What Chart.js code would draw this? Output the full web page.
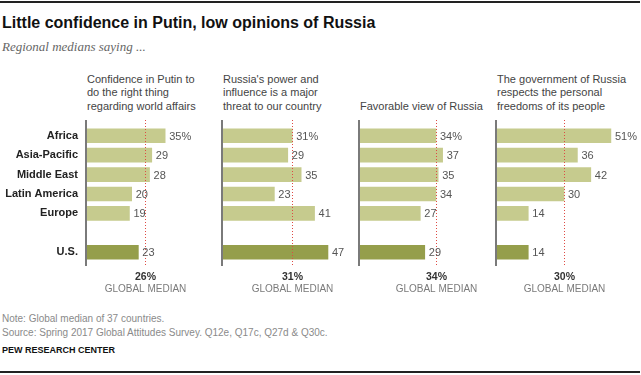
<!DOCTYPE html>
<html>
<head>
<meta charset="utf-8">
<script src="https://cdn.jsdelivr.net/npm/chart.js@4/dist/chart.umd.min.js"></script>
<style>
  html, body { margin: 0; padding: 0; background: #fff; }
  #wrap { position: relative; width: 641px; height: 375px; overflow: hidden; font-family: "Liberation Sans", Arial, sans-serif; }
  .rule { position: absolute; left: 0; width: 640px; height: 2px; background: #222; }
  .title { position: absolute; left: 2px; top: 13.5px; font-size: 16px; line-height: 18px; font-weight: bold; color: #111; white-space: nowrap; }
  .sub { position: absolute; left: 2px; top: 39px; font-family: "Liberation Serif", serif; font-style: italic; font-size: 13px; line-height: 15px; color: #666; white-space: nowrap; }
  .head { position: absolute; bottom: 262px; font-size: 11px; line-height: 13.5px; color: #444; white-space: nowrap; }
  .note { position: absolute; left: 2px; font-size: 10px; line-height: 14px; color: #8a8a8a; white-space: nowrap; }
  .pew { position: absolute; left: 2px; top: 345.4px; font-size: 9px; line-height: 11px; font-weight: bold; color: #111; white-space: nowrap; }
  canvas { position: absolute; top: 100px; }
</style>
</head>
<body>
<div id="wrap">
  <div class="rule" style="top:1px"></div>
  <div class="title">Little confidence in Putin, low opinions of Russia</div>
  <div class="sub">Regional medians saying ...</div>

  <div class="head" style="left:87px">Confidence in Putin to<br>do the right thing<br>regarding world affairs</div>
  <div class="head" style="left:223px">Russia's power and<br>influence is a major<br>threat to our country</div>
  <div class="head" style="left:360px">Favorable view of Russia</div>
  <div class="head" style="left:497px">The government of Russia<br>respects the personal<br>freedoms of its people</div>

  <canvas id="c0" width="241" height="200" style="left:0px"></canvas>
  <canvas id="c1" width="241" height="200" style="left:136px"></canvas>
  <canvas id="c2" width="241" height="200" style="left:273px"></canvas>
  <canvas id="c3" width="241" height="200" style="left:410px"></canvas>

  <div class="note" style="top:311.5px">Note: Global median of 37 countries.</div>
  <div class="note" style="top:325.5px">Source: Spring 2017 Global Attitudes Survey. Q12e, Q17c, Q27d &amp; Q30c.</div>
  <div class="pew">PEW RESEARCH CENTER</div>
  <div class="rule" style="top:371px"></div>
</div>

<script>
// data
const regions = ['Africa', 'Asia-Pacific', 'Middle East', 'Latin America', 'Europe', '', 'U.S.'];
const confidencePutin = [35, 29, 28, 20, 19, null, 23];
const russiaThreat = [31, 29, 35, 23, 41, null, 47];
const favorableRussia = [34, 37, 35, 34, 27, null, 29];
const respectsFreedoms = [51, 36, 42, 30, 14, null, 14];
const globalMedians = [26, 31, 34, 30];

const panels = [confidencePutin, russiaThreat, favorableRussia, respectsFreedoms];

const lightGreen = '#c6cb8e';
const darkGreen = '#959e4b';
const barColors = regions.map(r => r === 'U.S.' ? darkGreen : lightGreen);

Chart.defaults.font.family = '"Liberation Sans", Arial, sans-serif';

// value labels, axis line and global median line
const extrasPlugin = {
    id: 'extras',
    afterDatasetsDraw(chart, args, opts) {
        const ctx = chart.ctx;
        const area = chart.chartArea;
        const xs = chart.scales.x;

        // axis line
        ctx.save();
        ctx.fillStyle = '#7a7a7a';
        ctx.fillRect(area.left - 2, area.top - 6, 2, area.bottom - area.top + 10);

        // median dotted line
        const mx = Math.round(xs.getPixelForValue(opts.median)) + 0.5;
        ctx.strokeStyle = '#de4b43';
        ctx.lineWidth = 1;
        ctx.setLineDash([1, 2]);
        ctx.beginPath();
        ctx.moveTo(mx, area.top - 6);
        ctx.lineTo(mx, area.bottom + 4);
        ctx.stroke();
        ctx.setLineDash([]);

        // median text
        ctx.textAlign = 'center';
        ctx.textBaseline = 'alphabetic';
        ctx.fillStyle = '#333';
        ctx.font = 'bold 10.5px "Liberation Sans", Arial, sans-serif';
        ctx.fillText(opts.median + '%', mx, 180);
        ctx.fillStyle = '#7a7a7a';
        ctx.font = '10px "Liberation Sans", Arial, sans-serif';
        ctx.fillText('GLOBAL MEDIAN', mx, 192);

        // value labels
        const meta = chart.getDatasetMeta(0);
        const data = chart.data.datasets[0].data;
        ctx.textAlign = 'left';
        ctx.textBaseline = 'middle';
        ctx.fillStyle = '#555';
        ctx.font = '11px "Liberation Sans", Arial, sans-serif';
        meta.data.forEach((bar, i) => {
            if (data[i] == null) return;
            const txt = i === 0 ? data[i] + '%' : String(data[i]);
            ctx.fillText(txt, bar.x + 4, bar.y + 1);
        });
        ctx.restore();
    }
};

panels.forEach((vals, p) => {
    new Chart(document.getElementById('c' + p), {
        type: 'bar',
        data: {
            labels: regions,
            datasets: [{
                data: vals,
                backgroundColor: barColors,
                borderWidth: 0,
                barThickness: 14,
            }]
        },
        options: {
            indexAxis: 'y',
            responsive: false,
            animation: false,
            events: [],
            layout: { padding: { top: 26, bottom: 38, left: 0, right: 20 } },
            plugins: {
                legend: { display: false },
                tooltip: { enabled: false },
                extras: { median: globalMedians[p] },
            },
            scales: {
                x: { display: false, min: 0, max: 60 },
                y: {
                    grid: { display: false, drawTicks: false },
                    border: { display: false },
                    ticks: {
                        display: p === 0,
                        padding: 9,
                        color: '#222',
                        font: { size: 11, weight: 'bold' },
                    },
                    afterFit(scale) { scale.width = 87; },
                },
            },
        },
        plugins: [extrasPlugin],
    });
});
</script>
</body>
</html>
